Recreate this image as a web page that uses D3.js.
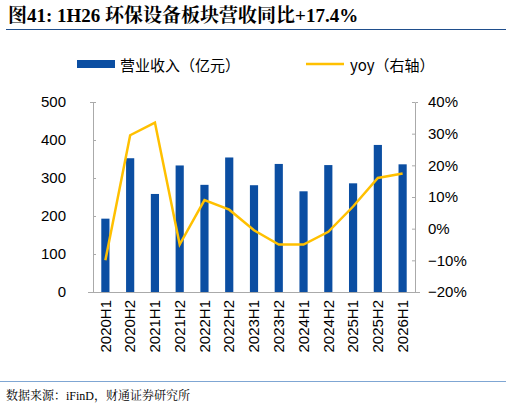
<!DOCTYPE html><html><head><meta charset="utf-8"><script src="https://cdn.jsdelivr.net/npm/d3@7"></script>
<style>body{margin:0;background:#fff}</style></head><body><svg width="510" height="411"></svg><script>
const categories=["2020H1","2020H2","2021H1","2021H2","2022H1","2022H2","2023H1","2023H2","2024H1","2024H2","2025H1","2025H2","2026H1"];
const revenue=[193,352,258,333,282,354,281,337,265,334,286,387,336];
const yoy=[-10,29.5,33.5,-5,9,6,-0.5,-5,-5,-1,7,16,17.4];
const leftTicks=[0,100,200,300,400,500];
const rightTicks=[-20,-10,0,10,20,30,40];
const svg=d3.select("svg");
const f="Liberation Sans, Arial, sans-serif", cf="'Noto Sans CJK SC', sans-serif";
svg.append("text").attr("x",8).attr("y",22).attr("font-family","'Liberation Serif','Noto Serif CJK SC','Noto Sans CJK SC',serif").attr("font-weight","bold").attr("font-size",19).text("图41: 1H26 环保设备板块营收同比+17.4%");
svg.append("line").attr("x1",6).attr("x2",506).attr("y1",29.5).attr("y2",29.5).attr("stroke","#1f4e8c").attr("stroke-width",1.2);
svg.append("line").attr("x1",0).attr("x2",506).attr("y1",381.5).attr("y2",381.5).attr("stroke","#7fa6d3").attr("stroke-width",1);
svg.append("text").attr("x",6).attr("y",400).attr("font-family","'Liberation Serif','Noto Serif CJK SC','Noto Sans CJK SC',serif").attr("font-size",12).text("数据来源：iFinD，财通证券研究所");
const x=d3.scaleBand().domain(categories).range([93,415]).paddingInner(0.67).paddingOuter(0.335);
const yL=d3.scaleLinear().domain([0,500]).range([292,102]);
const yR=d3.scaleLinear().domain([-20,40]).range([292,102]);
svg.selectAll(".bar").data(revenue).enter().append("rect").attr("x",(d,i)=>x(categories[i])).attr("width",x.bandwidth()).attr("y",d=>yL(d)).attr("height",d=>292-yL(d)).attr("fill","#0b4ea2");
const gl=svg.append("g").attr("transform","translate(93,0)").call(d3.axisLeft(yL).tickValues(leftTicks).tickSize(3).tickPadding(24));
const gr=svg.append("g").attr("transform","translate(415,0)").call(d3.axisRight(yR).tickValues(rightTicks).tickSize(3).tickPadding(10).tickFormat(d=>(d<0?"−":"")+Math.abs(d)+"%"));
const gb=svg.append("g").attr("transform","translate(0,292)").call(d3.axisBottom(x).tickSize(0).tickPadding(6));
[gl,gr,gb].forEach(g=>{g.selectAll("path,line").attr("stroke","#aaa");g.selectAll("text").attr("font-family",f).attr("font-size",15).attr("fill","#000");});
gl.selectAll(".tick line").attr("x2",3);gr.selectAll(".tick line").attr("x2",-3);
gb.selectAll("text").attr("transform","rotate(-90)").attr("text-anchor","end").attr("dx","0").attr("dy","0.35em").attr("x",-8).attr("y",0);
gb.select("path").attr("d","M88,0.5H420");
svg.append("path").datum(yoy).attr("fill","none").attr("stroke","#ffc000").attr("stroke-width",2.5)
 .attr("d",d3.line().x((d,i)=>x(categories[i])+x.bandwidth()/2).y(d=>yR(d)));
svg.append("rect").attr("x",77).attr("y",60).attr("width",38).attr("height",8).attr("fill","#0b4ea2");
svg.append("text").attr("x",120).attr("y",71).attr("font-family",cf).attr("font-size",15).text("营业收入（亿元）");
svg.append("line").attr("x1",306).attr("x2",344).attr("y1",64).attr("y2",64).attr("stroke","#ffc000").attr("stroke-width",2.5);
svg.append("text").attr("x",350).attr("y",71).attr("font-family",cf).attr("font-size",15).text("yoy（右轴）");
</script></body></html>
